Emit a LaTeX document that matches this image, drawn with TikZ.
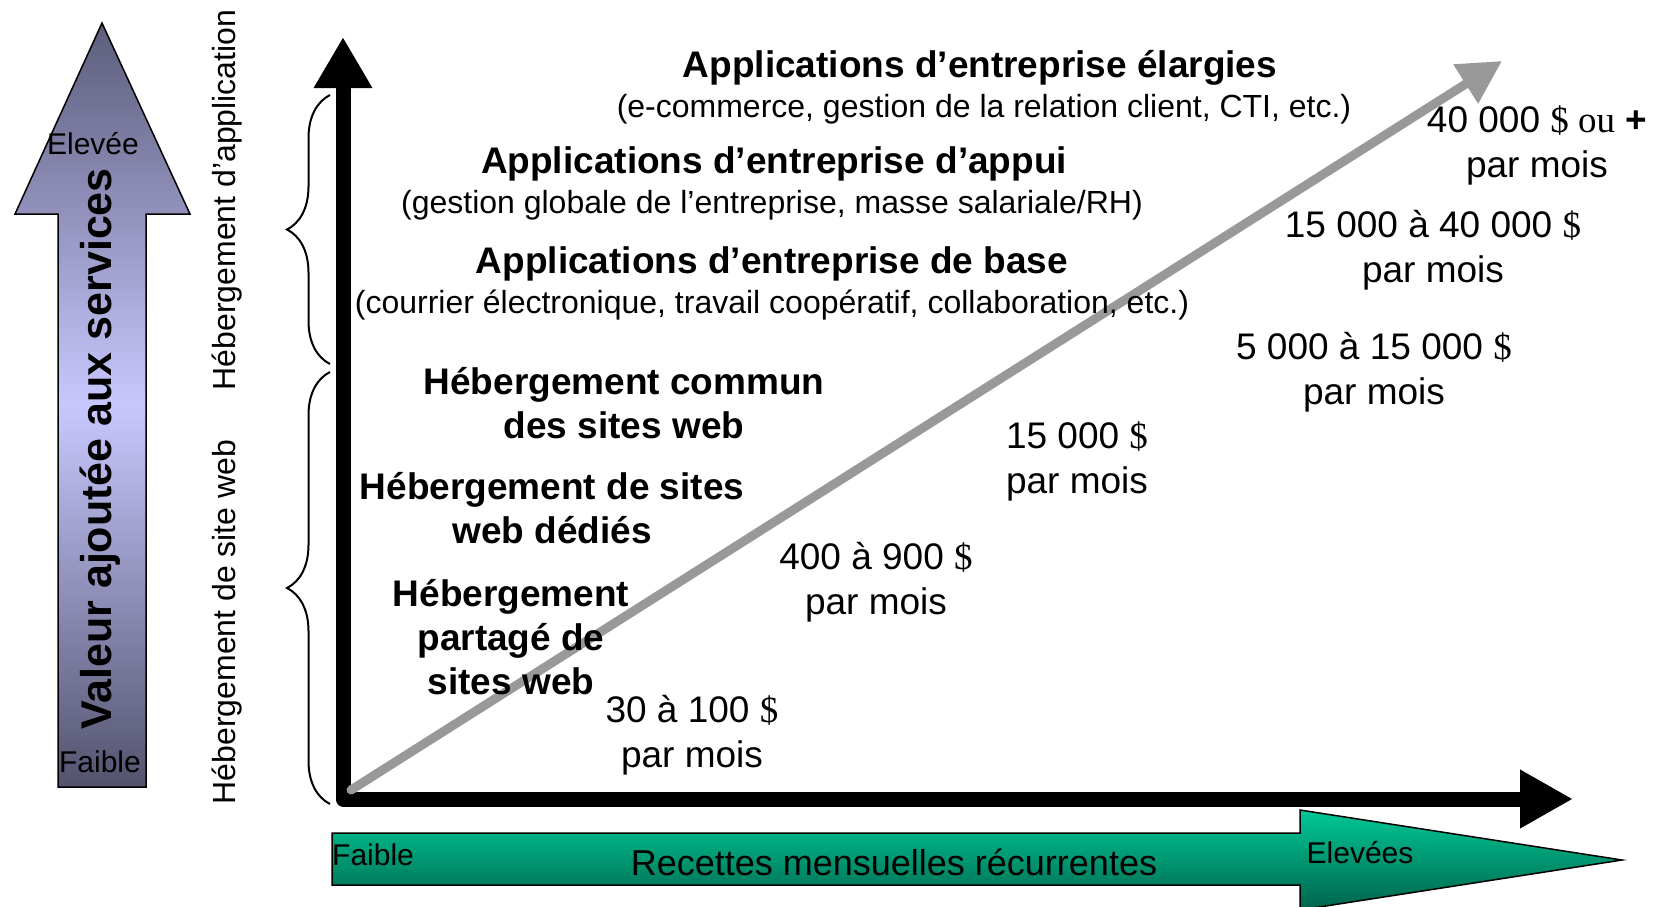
\documentclass[tikz,border=0pt]{standalone}
\usepackage{fontspec}
\setmainfont{Liberation Sans}
\newfontfamily\timesfont{Liberation Serif}
\usetikzlibrary{arrows.meta, decorations.pathreplacing, positioning}
\definecolor{trendgray}{RGB}{153,153,153}
\definecolor{valdark}{RGB}{92,92,122}
\definecolor{vallight}{RGB}{200,200,255}
\definecolor{recgreen}{RGB}{0,200,150}
\definecolor{recdark}{RGB}{0,100,75}
\newcommand{\dol}{{\timesfont\$}}

\begin{document}
\begin{tikzpicture}[x=1pt, y=-1pt,
  tier/.style={font=\bfseries\fontsize{37}{44}\selectfont, align=center},
  detail/.style={font=\fontsize{32}{38}\selectfont, align=center},
  price/.style={font=\fontsize{37}{45}\selectfont, align=center},
  side/.style={font=\fontsize{32}{38}\selectfont, rotate=90},
  levelmark/.style={font=\fontsize{30}{36}\selectfont, inner sep=0pt},
  bracket/.style={decorate, decoration={brace, amplitude=43pt}, line width=2pt}]
\useasboundingbox (0,0) rectangle (1655,906);

% Value arrow (left)
\shadedraw[line width=1.5pt, top color=valdark, bottom color=valdark!90!black, middle color=vallight]
  (58,787) -- (58,214) -- (15,214) -- (102,23) -- (190,214) -- (146,214) -- (146,787) -- cycle;
\node[font=\bfseries\fontsize{43}{48}\selectfont, rotate=90] (valeur) at (100,449) {Valeur ajoutée aux services};
\node[levelmark] (valhigh) at (93,144) {Elevée};
\node[levelmark] (vallow) at (100,762) {Faible};

% Revenue arrow (bottom)
\shadedraw[line width=1.5pt, top color=recgreen, bottom color=recdark]
  (332,833) -- (1300,833) -- (1300,810) -- (1622,860) -- (1300,910) -- (1300,885) -- (332,885) -- cycle;
\node[levelmark, anchor=west] (reclow) at (332,855) {Faible};
\node[font=\fontsize{36}{42}\selectfont] (recettes) at (894,862) {Recettes mensuelles récurrentes};
\node[levelmark] (rechigh) at (1360,853) {Elevées};

% Hosting braces
\node[side] (apphost) at (227,200) {Hébergement d’application};
\node[side] (webhost) at (227,622) {Hébergement de site web};
\coordinate (apptop) at (330,95);
\coordinate (appbot) at (330,364);
\coordinate (webtop) at (330,372);
\coordinate (webbot) at (330,804);
\draw[bracket] (appbot) -- (apptop);
\draw[bracket] (webbot) -- (webtop);

% Axes
\coordinate (origin) at (343,799);
\coordinate (ytop) at (343,37);
\coordinate (xend) at (1573,799);
\draw[line width=15pt, line join=round, {Triangle[length=51pt, width=55pt]}-{Triangle[length=53pt, width=55pt]}]
  (ytop) -- (origin) -- (xend);

% Trend
\coordinate (trendstart) at (351,790);
\coordinate (trendend) at (1502,61);
\draw[trendgray, line width=9pt, line cap=round, -{Triangle[length=43pt, width=44pt]}] (trendstart) -- (trendend);

% Service tiers
\node[tier] (large) at (980,68) {Applications d’entreprise élargies};
\node[detail] (largesub) at (984,109) {(e-commerce, gestion de la relation client, CTI, etc.)};
\node[tier] (appui) at (774,164) {Applications d’entreprise d’appui};
\node[detail] (appuisub) at (772,205) {(gestion globale de l’entreprise, masse salariale/RH)};
\node[tier] (base) at (772,264) {Applications d’entreprise de base};
\node[detail] (basesub) at (772,305) {(courrier électronique, travail coopératif, collaboration, etc.)};
\node[tier] (commun) at (624,403) {Hébergement commun\\des sites web};
\node[tier] (dedie) at (552,508) {Hébergement de sites\\web dédiés};
\node[tier] (partage) at (511,637) {Hébergement\\partagé de\\sites web};

% Prices
\node[price] (p1) at (692,735) {30 à 100 \dol\\par mois};
\node[price] (p2) at (876,582) {400 à 900 \dol\\par mois};
\node[price] (p3) at (1077,461) {15 000 \dol\\par mois};
\node[price] (p4) at (1374,372) {5 000 à 15 000 \dol\\par mois};
\node[price] (p5) at (1433,250) {15 000 à 40 000 \dol\\par mois};
\node[price] (p6) at (1537,145) {40 000 {\timesfont\$ ou} \textbf{+}\\par mois};
\end{tikzpicture}
\end{document}
